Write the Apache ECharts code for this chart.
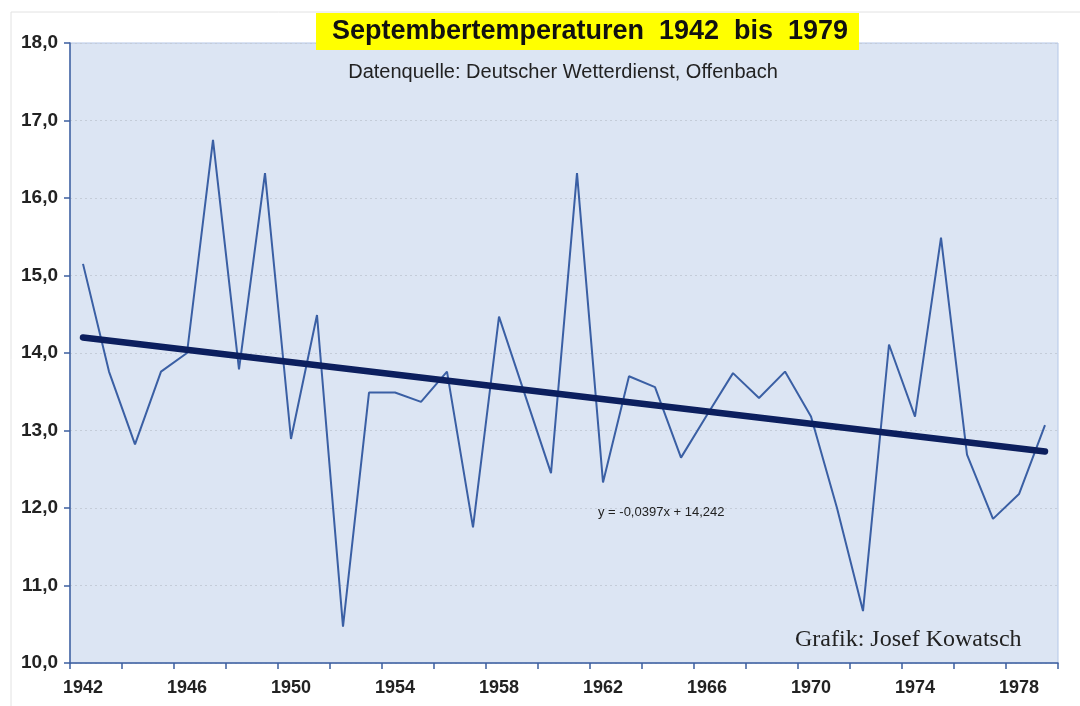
<!DOCTYPE html>
<html>
<head>
<meta charset="utf-8">
<title>Septembertemperaturen 1942 bis 1979</title>
<script src="https://cdn.jsdelivr.net/npm/echarts@6/dist/echarts.min.js"></script>
<style>
  html, body { margin: 0; padding: 0; background: #fff; }
  #chart { width: 1080px; height: 706px; }
</style>
</head>
<body>
<div id="chart"></div>
<script>
// Jahre 1942 - 1979
const years = ['1942', '1943', '1944', '1945', '1946', '1947', '1948', '1949', '1950', '1951',
  '1952', '1953', '1954', '1955', '1956', '1957', '1958', '1959', '1960', '1961',
  '1962', '1963', '1964', '1965', '1966', '1967', '1968', '1969', '1970', '1971',
  '1972', '1973', '1974', '1975', '1976', '1977', '1978', '1979']
// Septembermittel in °C
const temps = [15.15, 13.76, 12.82, 13.76, 14.0, 16.75, 13.79, 16.32, 12.89, 14.49,
  10.47, 13.49, 13.49, 13.37, 13.76, 11.75, 14.47, 13.46, 12.45, 16.32,
  12.33, 13.70, 13.56, 12.65, 13.2, 13.74, 13.42, 13.76, 13.18, 12.0,
  10.67, 14.11, 13.18, 15.49, 12.69, 11.86, 12.18, 13.07]
// Trendlinie: Anfangs- und Endwert
const trendEnds = [14.2, 12.73]
const trendLabel = 'y = -0,0397x + 14,242'

const trendData = years.map((y, i) => {
  if (i === 0) return trendEnds[0]
  if (i === years.length - 1) return trendEnds[1]
  return null
})

const chart = echarts.init(document.getElementById('chart'))
chart.setOption({
  backgroundColor: '#fff',
  animation: false,
  grid: {
    left: 70,
    right: 22,
    top: 43,
    bottom: 43,
    show: true,
    backgroundColor: '#dce5f3',
    borderColor: '#b4c6e6',
    borderWidth: 1
  },
  graphic: [
    {
      type: 'rect',
      shape: { x: 11, y: 12, width: 1080, height: 700 },
      style: { fill: 'none', stroke: '#e2e2e2', lineWidth: 1 },
      silent: true,
      z: -1
    },
    {
      type: 'rect',
      shape: { x: 316, y: 13, width: 543, height: 37 },
      style: { fill: '#ffff00' },
      z: 10
    },
    {
      type: 'text',
      x: 590,
      y: 32,
      style: {
        text: 'Septembertemperaturen  1942  bis  1979',
        font: 'bold 27px "Liberation Sans", Arial, sans-serif',
        fill: '#111',
        align: 'center',
        verticalAlign: 'middle'
      },
      z: 11
    },
    {
      type: 'text',
      x: 563,
      y: 72,
      style: {
        text: 'Datenquelle: Deutscher Wetterdienst, Offenbach',
        font: '20px "Liberation Sans Narrow", "Liberation Sans", Arial, sans-serif',
        fill: '#222',
        align: 'center',
        verticalAlign: 'middle'
      },
      z: 11
    },
    {
      type: 'text',
      x: 598,
      y: 512,
      style: {
        text: trendLabel,
        font: '13px "Liberation Sans", Arial, sans-serif',
        fill: '#222',
        verticalAlign: 'middle'
      },
      z: 11
    },
    {
      type: 'text',
      x: 795,
      y: 640,
      style: {
        text: 'Grafik: Josef Kowatsch',
        font: '24px "Liberation Serif", "Times New Roman", serif',
        fill: '#222',
        verticalAlign: 'middle'
      },
      z: 11
    }
  ],
  xAxis: {
    type: 'category',
    data: years,
    boundaryGap: true,
    axisLine: { lineStyle: { color: '#3c5fa0', width: 1.5 } },
    axisTick: { show: true, interval: 1, length: 6, lineStyle: { color: '#3c5fa0', width: 1.5 } },
    axisLabel: {
      interval: 3,
      color: '#222',
      fontSize: 18,
      fontWeight: 'bold',
      fontFamily: '"Liberation Sans", Arial, sans-serif',
      margin: 16
    },
    splitLine: { show: false }
  },
  yAxis: {
    type: 'value',
    min: 10,
    max: 18,
    interval: 1,
    axisLine: { show: true, lineStyle: { color: '#3c5fa0', width: 1.5 } },
    axisTick: { show: true, length: 6, lineStyle: { color: '#3c5fa0', width: 1.5 } },
    axisLabel: {
      color: '#222',
      fontSize: 19,
      fontWeight: 'bold',
      fontFamily: '"Liberation Sans", Arial, sans-serif',
      margin: 12,
      formatter: v => v.toFixed(1).replace('.', ',')
    },
    splitLine: { show: true, lineStyle: { color: '#c4ccd8', type: [2, 3], width: 1 } }
  },
  series: [
    {
      name: 'September',
      type: 'line',
      data: temps,
      symbol: 'none',
      lineStyle: { color: '#3a5fa4', width: 2 },
      z: 3
    },
    {
      name: 'Trend',
      type: 'line',
      data: trendData,
      connectNulls: true,
      symbol: 'none',
      lineStyle: { color: '#0c1f5e', width: 6.5, cap: 'round' },
      z: 4
    }
  ]
})
</script>
</body>
</html>
